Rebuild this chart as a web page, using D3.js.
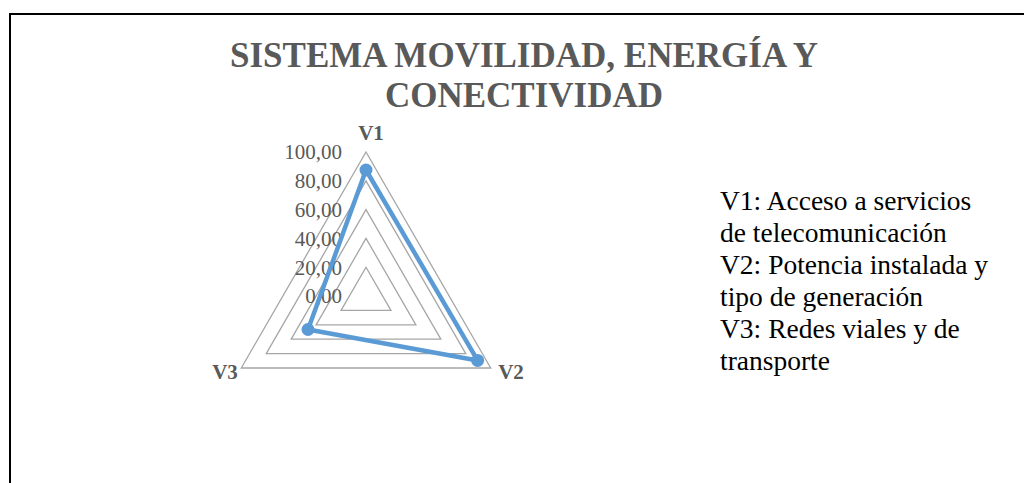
<!DOCTYPE html>
<html><head><meta charset="utf-8">
<script src="https://cdn.jsdelivr.net/npm/d3@7"></script>
<style>html,body{margin:0;padding:0;background:#fff;}svg{display:block;}</style>
</head><body>
<svg id="c" width="1024" height="483"></svg>
<script>
const categories = ["V1", "V2", "V3"];
const values = [87.5, 89.5, 46.5];
const tickValues = [0, 20, 40, 60, 80, 100];
const tickLabels = ["0,00", "20,00", "40,00", "60,00", "80,00", "100,00"];
const titleLines = ["SISTEMA MOVILIDAD, ENERGÍA Y", "CONECTIVIDAD"];
const legendLines = ["V1: Acceso a servicios", "de telecomunicación", "V2: Potencia instalada y", "tipo de generación", "V3: Redes viales y de", "transporte"];

const svg = d3.select("#c");
const font = "'Liberation Serif','Times New Roman',serif";
const gray = "#595959";

// frame
svg.append("rect").attr("x", 10).attr("y", 14).attr("width", 1100).attr("height", 600)
  .attr("fill", "none").attr("stroke", "#000").attr("stroke-width", 2);

// title
svg.append("g").selectAll("text").data(titleLines).join("text")
  .attr("x", 524).attr("y", (d, i) => 67 + i * 40)
  .attr("text-anchor", "middle").attr("font-family", font).attr("font-weight", "bold")
  .attr("font-size", 35).attr("fill", gray).text(d => d);

const cx = 366, cy = 296, R = 144;
const r = d3.scaleLinear().domain([0, 100]).range([0, R]);
const angle = d3.scalePoint().domain(categories).range([0, 2 * Math.PI * (categories.length - 1) / categories.length]);
const pt = (cat, v) => [cx + r(v) * Math.sin(angle(cat)), cy - r(v) * Math.cos(angle(cat))];

// grid
const gridLine = d3.line().curve(d3.curveLinearClosed);
svg.append("g").selectAll("path").data(tickValues.filter(t => t > 0)).join("path")
  .attr("d", t => gridLine(categories.map(c => pt(c, t))))
  .attr("fill", "none").attr("stroke", "#a6a6a6").attr("stroke-width", 1.3);

// tick labels
svg.append("g").selectAll("text").data(tickValues).join("text")
  .attr("x", cx - 24).attr("y", t => pt(categories[0], t)[1])
  .attr("dy", "0.35em").attr("text-anchor", "end").attr("font-family", font)
  .attr("font-size", 21).attr("fill", gray).text((t, i) => tickLabels[i]);

// axis labels
const labelPos = {V1: [cx + 5, 140], V2: [cx + 145, 379], V3: [cx - 141, 379]};
svg.append("g").selectAll("text").data(categories).join("text")
  .attr("x", d => labelPos[d][0]).attr("y", d => labelPos[d][1])
  .attr("text-anchor", "middle").attr("font-family", font).attr("font-weight", "bold")
  .attr("font-size", 21).attr("fill", gray).text(d => d);

// series
const pts = categories.map((c, i) => pt(c, values[i]));
svg.append("path").attr("d", gridLine(pts)).attr("fill", "none")
  .attr("stroke", "#5B9BD5").attr("stroke-width", 4.5).attr("stroke-linejoin", "round");
svg.append("g").selectAll("circle").data(pts).join("circle")
  .attr("cx", d => d[0]).attr("cy", d => d[1]).attr("r", 6.5).attr("fill", "#5B9BD5");

// legend text
svg.append("g").selectAll("text").data(legendLines).join("text")
  .attr("x", 720).attr("y", (d, i) => 210 + i * 32)
  .attr("font-family", font).attr("font-size", 27.5).attr("fill", "#000").text(d => d);
</script>
</body></html>
